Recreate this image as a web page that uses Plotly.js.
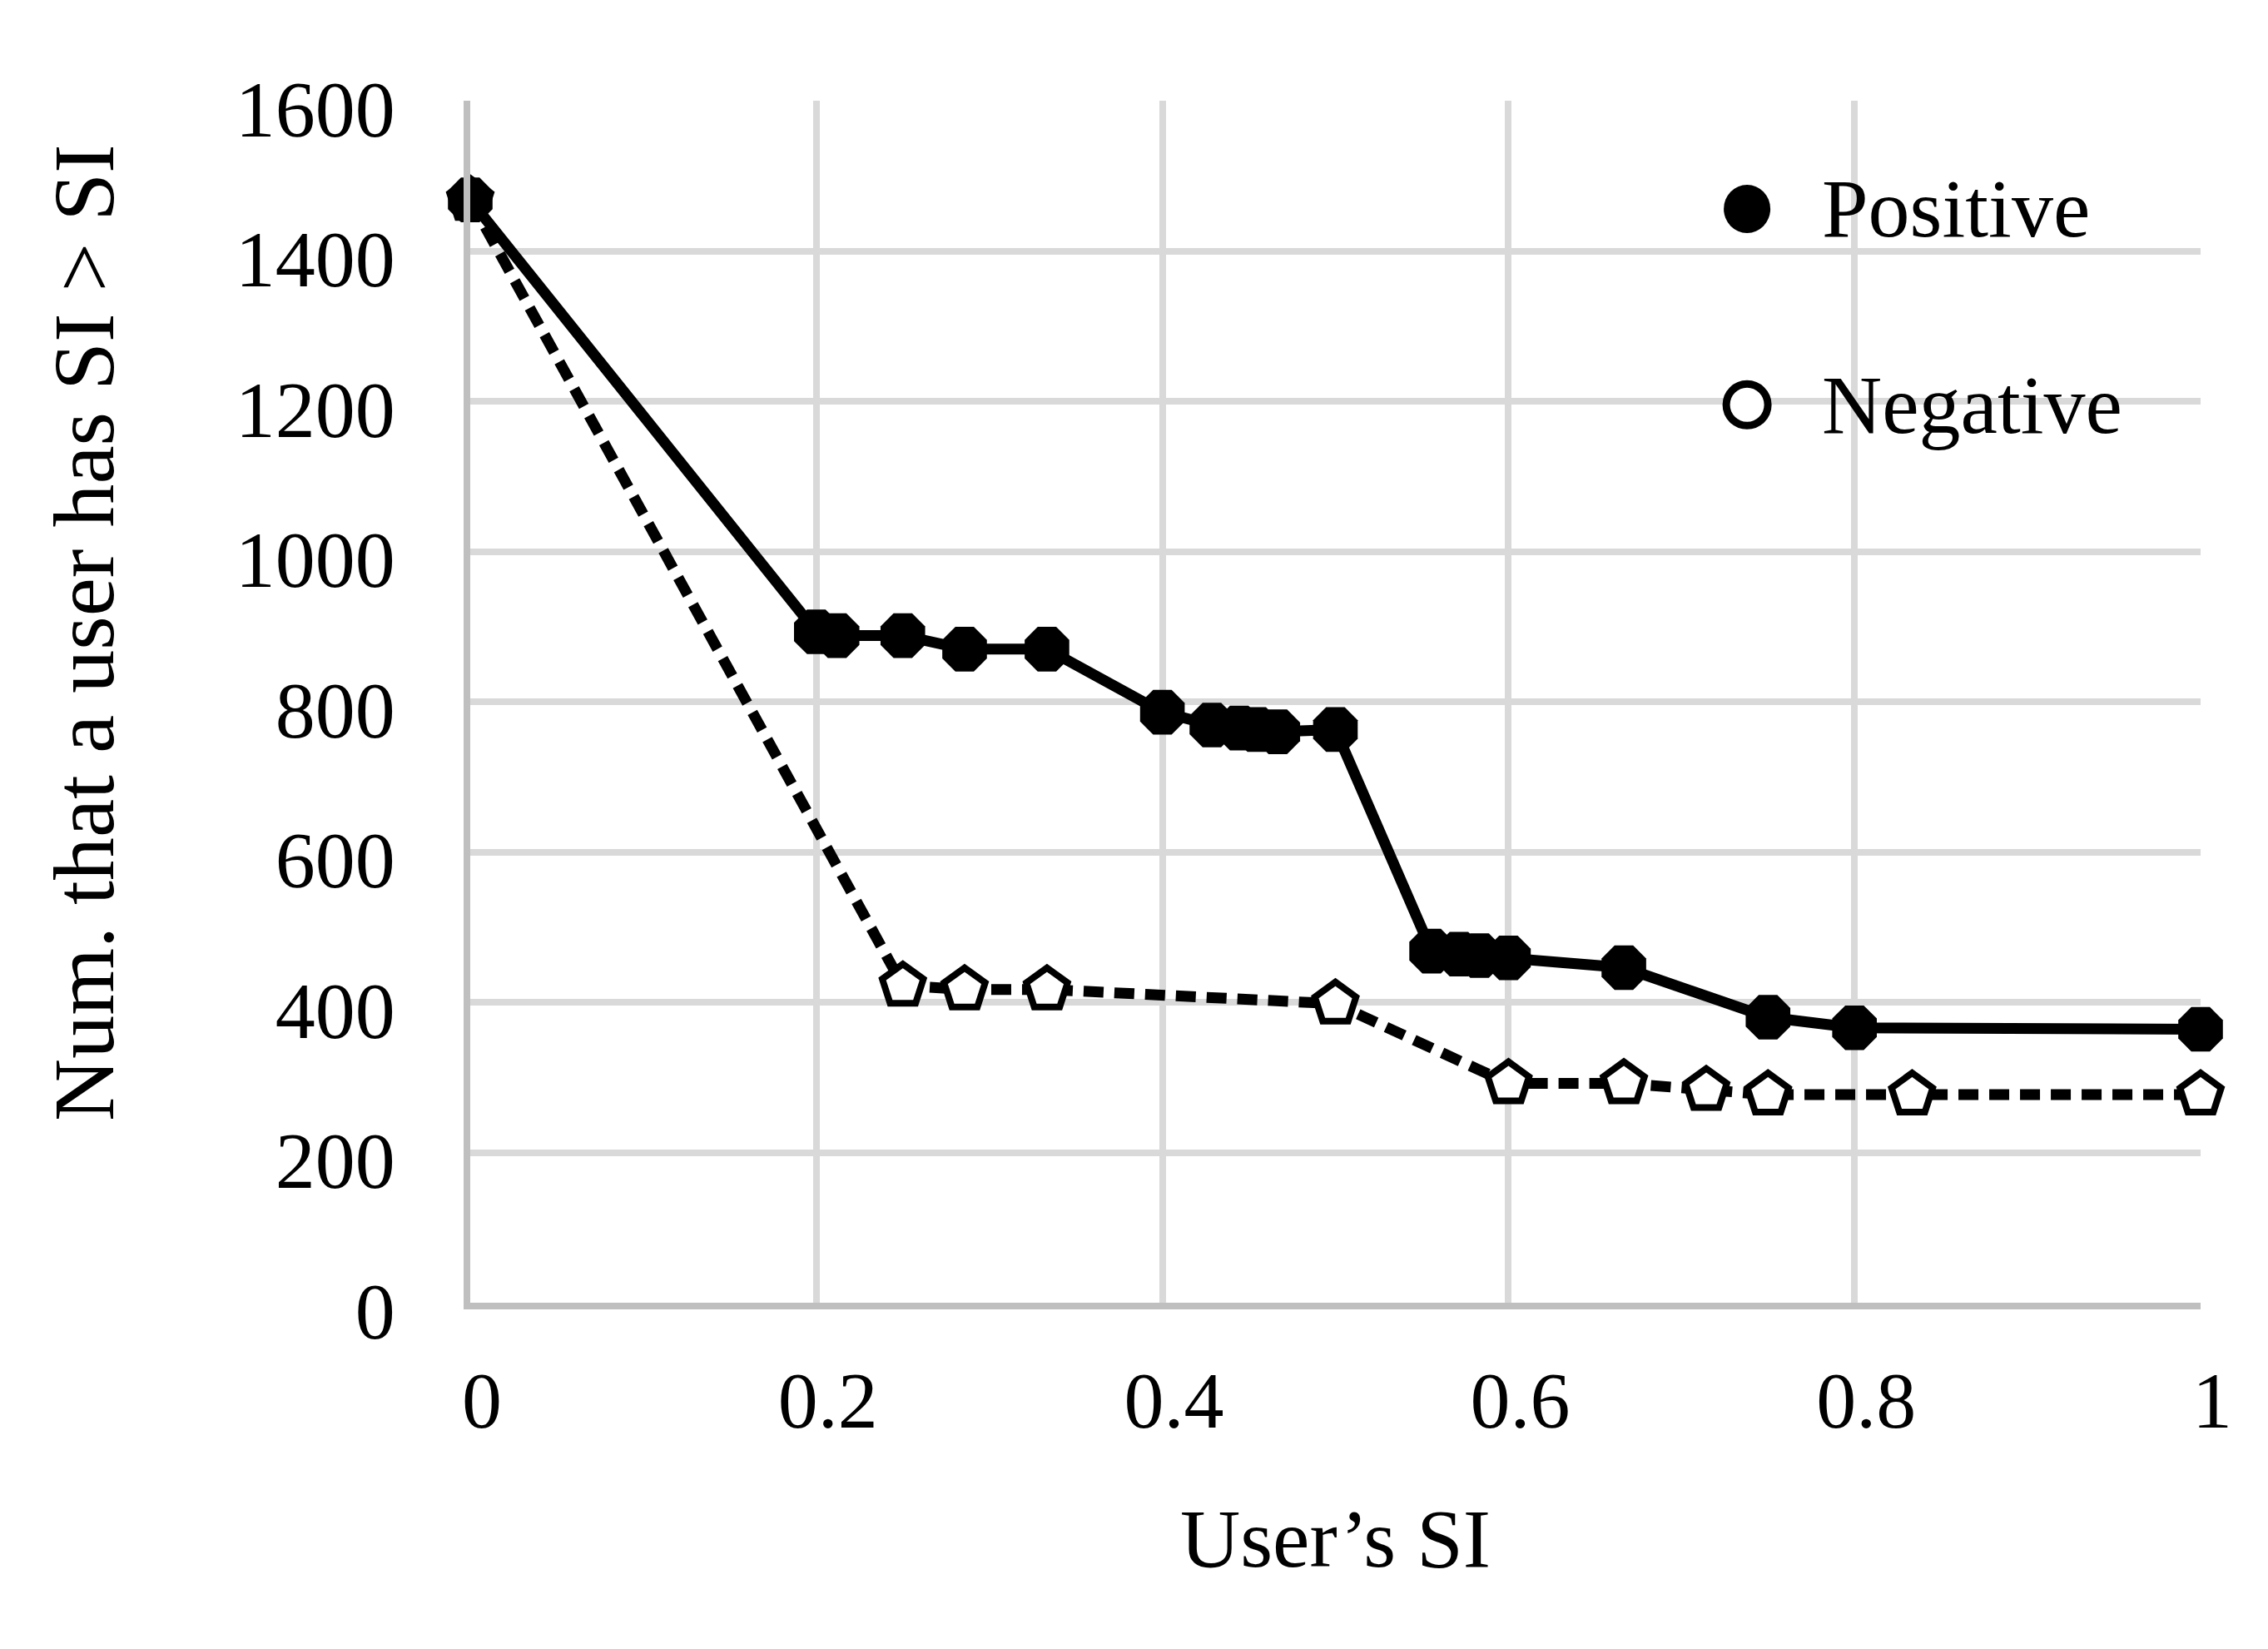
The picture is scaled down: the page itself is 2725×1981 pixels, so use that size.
<!DOCTYPE html>
<html>
<head>
<meta charset="utf-8">
<script src="https://cdn.plot.ly/plotly-3.0.1.min.js"></script>
<style>
  html, body { margin: 0; padding: 0; background: #ffffff; }
  #chart { width: 2725px; height: 1981px; }
</style>
</head>
<body>
<div id="chart"></div>
<script>
// ---- Data ----
const seriesNames = ["Positive", "Negative"];

const positiveX = [0, 0.2, 0.212, 0.25, 0.2857, 0.3333, 0.4, 0.4286, 0.4444, 0.4545, 0.4667, 0.5,
                   0.5556, 0.5714, 0.5833, 0.6, 0.6667, 0.75, 0.8, 1.0];
const positiveY = [1468, 893, 888, 888, 870, 870, 786, 769, 765, 763, 760, 763,
                   468, 464, 462, 459, 446, 380, 366, 364];

const negativeX = [0, 0.25, 0.2857, 0.3333, 0.5, 0.6, 0.6667, 0.7143, 0.75, 0.8333, 1.0];
const negativeY = [1468, 422, 417, 417, 398, 292, 292, 283, 277, 277, 277];

const xTickVals = [0, 0.2, 0.4, 0.6, 0.8, 1];
const xTickText = ["0", "0.2", "0.4", "0.6", "0.8", "1"];
const yTickVals = [0, 200, 400, 600, 800, 1000, 1200, 1400, 1600];
const yTickText = ["0", "200", "400", "600", "800", "1000", "1200", "1400", "1600"];

const xTitle = "User\u2019s SI";
const yTitle = "Num. that a user has SI > SI";

// ---- Styling ----
const FONT = "Liberation Serif, Times New Roman, serif";
const GRID = "#d9d9d9";
const AXIS = "#bfbfbf";

const traces = [
  {
    type: "scatter", mode: "lines+markers", name: seriesNames[1],
    x: negativeX, y: negativeY, cliponaxis: false, showlegend: false,
    line: { color: "#000000", width: 13, dash: "24px,13px" },
    marker: { symbol: "pentagon", size: 52, color: "#ffffff", line: { color: "#000000", width: 8 } }
  },
  {
    type: "scatter", mode: "lines+markers", name: seriesNames[0],
    x: positiveX, y: positiveY, cliponaxis: false, showlegend: false,
    line: { color: "#000000", width: 13 },
    marker: { symbol: "octagon", size: 58, color: "#000000", line: { width: 0 } }
  }
];

// Legend drawn as layout decoration (large symbols like the reference)
const legendBox = { x0: 0.6926, x1: 0.9928, y0: 0.6579, y1: 0.9751 };
const legendSymX = 0.7379;
const legendTextX = 0.7802;
const legendRowY = [0.9100, 0.7470];

const layout = {
  width: 2725, height: 1981,
  margin: { l: 565, r: 81, t: 121, b: 416 },
  paper_bgcolor: "#ffffff", plot_bgcolor: "#ffffff",
  showlegend: false,
  font: { family: FONT, color: "#000000", size: 96 },
  xaxis: {
    range: [0, 1], tickmode: "array", tickvals: xTickVals, ticktext: xTickText,
    showgrid: true, gridcolor: GRID, gridwidth: 8,
    showline: true, linecolor: AXIS, linewidth: 8, zeroline: false,
    ticks: "", ticklabelstandoff: 27, ticklabelshift: 14,
    tickfont: { family: FONT, size: 96, color: "#000000" },
    title: { text: xTitle, font: { family: FONT, size: 100, color: "#000000" }, standoff: 80 },
    fixedrange: true
  },
  yaxis: {
    range: [0, 1600], tickmode: "array", tickvals: yTickVals, ticktext: yTickText,
    showgrid: true, gridcolor: GRID, gridwidth: 8,
    showline: true, linecolor: AXIS, linewidth: 8, zeroline: false,
    ticks: "", ticklabelstandoff: 63, ticklabelshift: 9,
    tickfont: { family: FONT, size: 96, color: "#000000" },
    fixedrange: true
  },
  shapes: [
    { type: "rect", xref: "paper", yref: "paper", layer: "between",
      x0: legendBox.x0, x1: legendBox.x1, y0: legendBox.y0, y1: legendBox.y1,
      fillcolor: "#ffffff", line: { width: 0 } },
    { type: "circle", xref: "paper", yref: "paper", xsizemode: "pixel", ysizemode: "pixel",
      xanchor: legendSymX, yanchor: legendRowY[0], x0: -28, x1: 28, y0: -29, y1: 29,
      fillcolor: "#000000", line: { width: 0 } },
    { type: "circle", xref: "paper", yref: "paper", xsizemode: "pixel", ysizemode: "pixel",
      xanchor: legendSymX, yanchor: legendRowY[1], x0: -25, x1: 25, y0: -25, y1: 25,
      fillcolor: "#ffffff", line: { color: "#000000", width: 9 } }
  ],
  annotations: [
    { text: seriesNames[0], xref: "paper", yref: "paper", x: legendTextX, y: legendRowY[0],
      xanchor: "left", yanchor: "middle", showarrow: false,
      font: { family: FONT, size: 100, color: "#000000" } },
    { text: seriesNames[1], xref: "paper", yref: "paper", x: legendTextX, y: legendRowY[1],
      xanchor: "left", yanchor: "middle", showarrow: false,
      font: { family: FONT, size: 100, color: "#000000" } },
    { text: yTitle, xref: "paper", yref: "paper", x: -0.2232, y: 0.5575,
      xanchor: "center", yanchor: "middle", textangle: -90, showarrow: false,
      font: { family: FONT, size: 104, color: "#000000" } }
  ]
};

Plotly.newPlot("chart", traces, layout, { staticPlot: true, displayModeBar: false });
</script>
</body>
</html>
